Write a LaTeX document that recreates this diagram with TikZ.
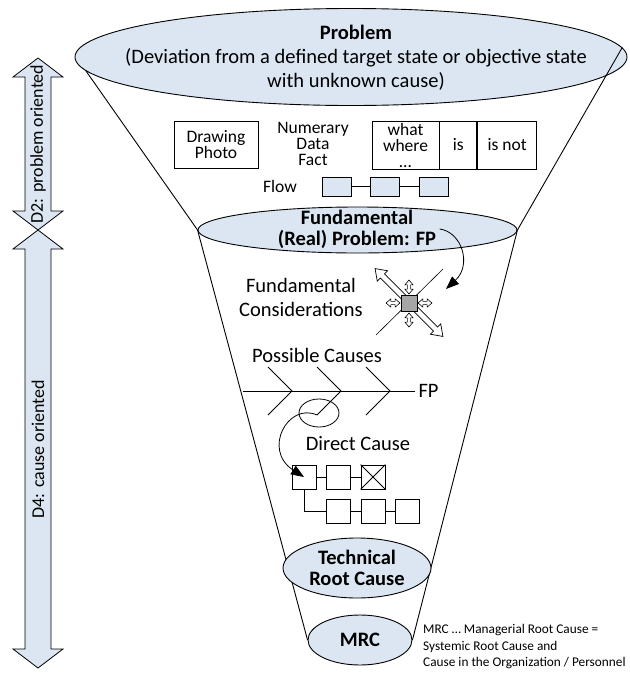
\documentclass[tikz,border=0pt]{standalone}
\usepackage{fontspec}
\setmainfont{Carlito}
\usetikzlibrary{shapes.geometric,shapes.arrows,arrows.meta}

\definecolor{ellblue}{HTML}{DCE6F2}
\definecolor{sqgray}{HTML}{A6A6A6}

\tikzset{
  ell/.style={ellipse,draw,fill=ellblue,line width=0.9pt,inner sep=0pt},
  box/.style={rectangle,draw,line width=0.8pt,inner sep=0pt,align=center},
  flowbox/.style={box,fill=ellblue,minimum width=29pt,minimum height=19pt},
  chainbox/.style={box,minimum width=24pt,minimum height=24pt},
  sidearrow/.style={draw,fill=ellblue,line width=0.8pt},
  funnel/.style={line width=0.9pt},
  bone/.style={line width=0.9pt},
  hollow/.style={double arrow,draw,fill=white,line width=0.6pt,inner xsep=0pt,
    inner ysep=1.3pt,double arrow head extend=2.5pt,double arrow tip angle=80,
    minimum height=14pt,minimum width=0pt},
  bigtip/.style={-{Triangle[length=13pt,width=10pt]},line width=0.8pt},
  big/.style={font=\fontsize{20.5}{24}\selectfont,align=center},
  bigb/.style={font=\fontsize{20.5}{21}\selectfont\bfseries,align=center},
  mid/.style={font=\fontsize{17.5}{16}\selectfont,align=center},
  side/.style={font=\fontsize{18}{20}\selectfont},
  small/.style={font=\fontsize{13.3}{16.5}\selectfont,align=left,inner sep=0pt},
}

\begin{document}
\begin{tikzpicture}[x=1pt,y=-1pt]
\useasboundingbox (0,0) rectangle (630,673);

\draw[sidearrow] (38,58) -- (63,77) -- (51,77) -- (51,211) -- (63,211) -- (38,230)
  -- (13,211) -- (25,211) -- (25,77) -- (13,77) -- cycle;
\draw[sidearrow] (38,230) -- (63,249) -- (51,249) -- (51,649) -- (63,649) -- (38,668)
  -- (13,649) -- (25,649) -- (25,249) -- (13,249) -- cycle;
\node[side,rotate=90] (dtwo) at (38,144) {D2: problem oriented};
\node[side,rotate=90] (dfour) at (38,449) {D4: cause oriented};

\node[ell,minimum width=552,minimum height=97] (prob) at (351,57) {};
\node[ell,minimum width=319,minimum height=46] (fund) at (357.5,230) {};
\node[ell,minimum width=104,minimum height=50] (mrc) at (360,640) {};

\draw[funnel] (prob.183) -- (fund.west) -- (mrc.west);
\draw[funnel] (prob.2) -- (fund.east) -- (mrc.east);

\node[ell,minimum width=148,minimum height=60] (tech) at (357,568) {};

\node[big] (probtxt) at (356,58) {\textbf{Problem}\\(Deviation from a defined target state or objective state\\with unknown cause)};
\node[bigb] (fundtxt) at (357,229) {Fundamental\\(Real) Problem: FP};
\node[bigb] (techtxt) at (357,568) {Technical\\Root Cause};
\node[bigb] (mrctxt) at (360,640) {MRC};

\node[box,mid,minimum width=84,minimum height=47] (drawing) at (216,144.5) {Drawing\\Photo};
\node[mid] (numdata) at (313,144) {Numerary\\Data\\Fact};
\node[box,mid,minimum width=67,minimum height=48] (what) at (405.5,145) {what\\where\\\dots};
\node[box,mid,minimum width=37,minimum height=48,anchor=west] (is) at (what.east) {is};
\node[box,mid,minimum width=59,minimum height=48,anchor=west] (isnot) at (is.east) {is not};

\node[mid] (flow) at (280,186) {Flow};
\node[flowbox] (fa) at (336.5,186.5) {};
\node[flowbox] (fb) at (385,186.5) {};
\node[flowbox] (fc) at (434,186.5) {};
\draw[line width=0.8pt] (fa) -- (fb) -- (fc);

\node[big] (fcons) at (301,297) {Fundamental\\Considerations};
\draw[line width=0.6pt] (376,335) -- (443,269);
\node[double arrow,draw,fill=white,line width=0.7pt,inner xsep=0pt,inner ysep=2.5pt,
  double arrow head extend=4.5pt,double arrow tip angle=70,minimum height=96pt,
  minimum width=0pt,rotate=-45] (diag) at (409,302.5) {};
\node[hollow,rotate=90] (fup) at (409,287) {};
\node[hollow,rotate=90] (fdown) at (409,320) {};
\node[hollow] (fleft) at (393,303) {};
\node[hollow] (fright) at (425,303) {};
\node[draw,fill=sqgray,minimum size=16pt,inner sep=0pt,line width=0.7pt] (fcsq) at (409,303) {};
\coordinate (fctip) at (446,289);
\draw[bigtip] (fundtxt.east) .. controls (462,232) and (472,265) .. (fctip);

\node[big] (poss) at (317,355) {Possible Causes};
\coordinate (spinel) at (243,391);
\node[big,anchor=west] (fp) at (415,391) {FP};
\draw[bone] (spinel) -- (fp);
\foreach \v in {292,341,390}
  \draw[bone] (\v-24,367) -- (\v,391) -- (\v-24,415);
\node[draw,ellipse,minimum width=40pt,minimum height=28pt,inner sep=0pt,line width=0.8pt] (ring) at (319,413) {};
\coordinate (dcstart) at (317,415);

\node[big] (dc) at (358,444) {Direct Cause};
\node[chainbox] (c1) at (304,477) {};
\node[chainbox] (c2) at (338,477) {};
\node[chainbox] (c3) at (373,477) {};
\node[chainbox] (c4) at (338,511) {};
\node[chainbox] (c5) at (373,511) {};
\node[chainbox] (c6) at (407,511) {};
\draw[line width=0.8pt] (c3.north west) -- (c3.south east) (c3.north east) -- (c3.south west);
\draw[line width=0.8pt] (c1) -- (c2) -- (c3);
\draw[line width=0.8pt] (c4) -- (c5) -- (c6);
\draw[line width=0.8pt] (c1.south) |- (c4.west);
\draw[bigtip] (dcstart) .. controls (288,402) and (262,450) .. (c1.center);

\node[small,anchor=west] (note) at (423,647) {MRC … Managerial Root Cause =\\Systemic Root Cause and\\Cause in the Organization / Personnel};

\end{tikzpicture}
\end{document}
